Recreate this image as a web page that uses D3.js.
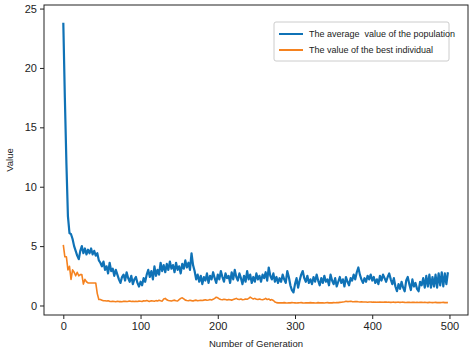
<!DOCTYPE html>
<html><head><meta charset="utf-8">
<script src="https://cdn.jsdelivr.net/npm/d3@7"></script>
<style>body{margin:0;background:#fff}svg{display:block;font-family:"Liberation Sans",Arial,sans-serif}</style>
</head><body><svg id="c" width="474" height="352"></svg>
<script>
// generations sampled every 2
const genStep = 2;
const avgValues = [
23.8,17.5,12.0,7.5,6.1,6.0,5.6,5.0,4.6,4.2,
3.9,4.6,5.0,4.4,4.8,4.3,4.7,4.4,4.8,4.3,
4.6,4.2,4.4,3.8,3.6,3.3,3.7,3.0,3.3,2.7,
3.6,2.9,3.1,2.5,3.0,2.6,2.2,1.9,2.4,2.6,
2.1,2.8,2.3,2.0,2.5,1.8,2.2,2.4,1.9,1.6,
2.0,1.7,2.3,2.0,2.6,3.0,2.4,2.9,2.2,3.3,
2.5,3.0,2.6,3.6,2.9,3.4,2.8,3.5,3.0,3.7,
3.1,3.4,2.8,3.6,3.0,3.3,2.7,3.5,3.1,3.8,
3.2,3.6,3.0,4.4,3.4,2.9,2.2,2.6,2.0,2.5,
1.8,2.4,2.1,2.7,1.9,2.5,2.2,2.8,2.3,1.9,
2.6,2.2,2.9,2.4,2.0,2.7,2.3,2.5,1.9,2.8,
2.2,3.0,2.4,2.1,2.7,2.3,1.8,2.5,2.0,2.9,
2.2,2.6,1.9,2.4,2.0,2.7,2.2,2.5,2.0,2.6,
2.3,2.8,2.1,3.2,2.5,2.2,2.7,2.0,2.4,1.9,
2.3,2.0,2.6,2.2,1.9,2.9,2.4,1.7,1.3,1.1,
1.8,2.3,1.5,2.1,2.6,2.9,2.3,2.0,2.5,1.9,
2.2,1.8,2.4,2.0,2.6,2.1,1.7,2.3,1.9,2.5,
2.0,2.2,1.7,2.6,2.1,1.8,2.3,1.6,2.0,2.4,
1.9,2.2,1.6,2.4,2.0,1.7,2.3,2.1,2.6,2.2,
2.8,3.2,2.6,2.2,1.9,2.3,2.0,2.5,2.2,2.6,
2.1,2.4,1.9,2.2,1.8,2.5,2.1,2.6,2.3,2.0,
2.4,2.7,2.2,1.8,2.3,1.6,1.2,1.8,1.4,2.0,
1.5,1.2,2.1,2.4,1.8,1.3,2.2,1.6,1.9,1.4,
1.2,2.0,1.7,2.3,1.5,2.5,1.6,2.6,1.5,2.4,
1.6,2.6,1.5,2.7,1.7,2.8,1.6,2.7,1.8,2.8
];
const bestValues = [
5.1,4.1,4.1,3.0,3.3,2.2,3.0,2.8,2.5,2.8,
2.5,2.6,2.6,1.8,2.2,2.0,1.9,1.9,1.9,1.9,
1.9,1.9,1.0,0.5,0.5,0.45,0.4,0.4,0.38,0.4,
0.35,0.33,0.36,0.34,0.32,0.35,0.33,0.34,0.32,0.35,
0.36,0.33,0.35,0.38,0.34,0.36,0.33,0.35,0.34,0.37,
0.36,0.34,0.4,0.38,0.42,0.37,0.35,0.4,0.38,0.36,
0.41,0.38,0.44,0.4,0.37,0.55,0.6,0.48,0.42,0.4,
0.38,0.42,0.45,0.4,0.38,0.5,0.6,0.65,0.55,0.45,
0.42,0.4,0.44,0.41,0.39,0.43,0.45,0.4,0.42,0.44,
0.42,0.45,0.48,0.44,0.46,0.5,0.47,0.52,0.6,0.7,
0.65,0.55,0.5,0.48,0.52,0.5,0.46,0.5,0.48,0.45,
0.5,0.55,0.6,0.52,0.5,0.55,0.48,0.5,0.55,0.52,
0.6,0.7,0.62,0.55,0.6,0.52,0.5,0.55,0.5,0.48,
0.52,0.6,0.5,0.55,0.45,0.5,0.42,0.3,0.24,0.22,
0.22,0.23,0.22,0.24,0.22,0.21,0.23,0.22,0.24,0.23,
0.22,0.21,0.22,0.23,0.24,0.22,0.21,0.22,0.23,0.22,
0.24,0.22,0.23,0.21,0.22,0.24,0.22,0.23,0.22,0.21,
0.23,0.24,0.22,0.23,0.22,0.24,0.23,0.25,0.24,0.26,
0.28,0.3,0.32,0.35,0.33,0.34,0.36,0.33,0.32,0.34,
0.33,0.31,0.3,0.32,0.3,0.29,0.3,0.28,0.3,0.29,
0.28,0.3,0.28,0.27,0.28,0.3,0.28,0.27,0.29,0.28,
0.27,0.28,0.26,0.27,0.28,0.26,0.27,0.28,0.26,0.27,
0.28,0.26,0.25,0.27,0.26,0.25,0.26,0.27,0.25,0.26,
0.25,0.26,0.27,0.25,0.26,0.25,0.24,0.26,0.25,0.24,
0.25,0.26,0.24,0.25,0.24,0.25,0.26,0.24,0.25,0.24
];
const xTicks = [0,100,200,300,400,500];
const yTicks = [0,5,10,15,20,25];
const seriesNames = ["The average  value of the population","The value of the best individual"];
const colors = ["#0f72b6","#f5821f"];

const svg = d3.select("#c");
const L=44,R=468,T=5,B=315;
const x = d3.scaleLinear().domain([-25,524]).range([L,R]);
const y = d3.scaleLinear().domain([-0.8,25.3]).range([B,T]);
const ink="#222";

const line = d3.line().x((d,i)=>x(i*genStep)).y(d=>y(d));
svg.append("path").datum(avgValues).attr("d",line).attr("fill","none")
  .attr("stroke",colors[0]).attr("stroke-width",2.2).attr("stroke-linejoin","round");
svg.append("path").datum(bestValues).attr("d",line).attr("fill","none")
  .attr("stroke",colors[1]).attr("stroke-width",1.6).attr("stroke-linejoin","round");

svg.append("rect").attr("x",L).attr("y",T).attr("width",R-L).attr("height",B-T)
  .attr("fill","none").attr("stroke",ink).attr("stroke-width",1);

const xa = svg.append("g").attr("transform",`translate(0,${B})`)
  .call(d3.axisBottom(x).tickValues(xTicks).tickSize(4).tickPadding(3));
const ya = svg.append("g").attr("transform",`translate(${L},0)`)
  .call(d3.axisLeft(y).tickValues(yTicks).tickSize(4).tickPadding(3));
[xa,ya].forEach(a=>{a.select(".domain").remove();
  a.selectAll("line").attr("stroke",ink);
  a.selectAll("text").attr("fill",ink).style("font-size","11px").style("font-family","Liberation Sans, Arial, sans-serif");});

svg.append("text").attr("x",(L+R)/2).attr("y",347).attr("text-anchor","middle")
  .attr("fill",ink).style("font-size","9.5px").text("Number of Generation");
svg.append("text").attr("transform",`translate(13,${(T+B)/2}) rotate(-90)`).attr("text-anchor","middle")
  .attr("fill",ink).style("font-size","9.5px").text("Value");

// legend
const lg = svg.append("g");
lg.append("rect").attr("x",274).attr("y",22).attr("width",175).attr("height",39).attr("rx",2)
  .attr("fill","#fff").attr("stroke","#ccc").attr("stroke-width",1);
seriesNames.forEach((n,i)=>{
  const yy = 34+i*16;
  lg.append("line").attr("x1",279).attr("x2",303).attr("y1",yy).attr("y2",yy)
    .attr("stroke",colors[i]).attr("stroke-width",2);
  lg.append("text").attr("x",309).attr("y",yy+3).attr("fill",ink)
    .style("font-size","9px").style("white-space","pre").text(n);
});
</script></body></html>
